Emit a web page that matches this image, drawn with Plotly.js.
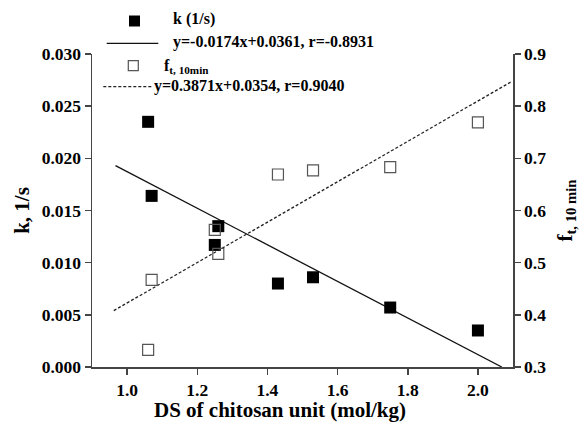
<!DOCTYPE html>
<html>
<head>
<meta charset="utf-8">
<script src="https://cdn.plot.ly/plotly-3.0.1.min.js"></script>
<style>html,body{margin:0;padding:0;background:#fff;}</style>
</head>
<body>
<div id="chart" style="width:579px;height:427px;"></div>
<script>
// ---- data ----
const dsValues = [1.06, 1.07, 1.25, 1.26, 1.43, 1.53, 1.75, 2.00];
const kValues  = [0.0235, 0.0164, 0.0117, 0.0135, 0.0080, 0.0086, 0.0057, 0.0035];
const fValues  = [0.333, 0.467, 0.563, 0.517, 0.669, 0.677, 0.683, 0.769];
const kFitX = [0.967, 2.068];
const kFitY = [0.0193, 0.0];
const fFitX = [0.962, 2.093];
const fFitY = [0.408, 0.846];
const legendLabels = ['k (1/s)', 'y=-0.0174x+0.0361, r=-0.8931', 'f<sub>t, 10min</sub>', 'y=0.3871x+0.0354, r=0.9040'];
const xTitle = 'DS of chitosan unit (mol/kg)';
const yTitle = 'k, 1/s';
const y2Title = 'f<sub>t, 10 min</sub>';

// ---- layout helpers ----
const W = 579, H = 427;
const M = {l: 92, r: 66, t: 54, b: 60};
const PW = W - M.l - M.r, PH = H - M.t - M.b;
const px = x => (x - M.l) / PW;
const py = y => (H - M.b - y) / PH;
const FONT = '"Liberation Serif", "Times New Roman", Times, serif';
const AX = '#444';

const traces = [
  {x: kFitX, y: kFitY, mode: 'lines', line: {color: '#111', width: 1.3}, hoverinfo: 'skip', showlegend: false},
  {x: fFitX, y: fFitY, yaxis: 'y2', mode: 'lines', line: {color: '#222', width: 1.3, dash: '3px,2px'}, hoverinfo: 'skip', showlegend: false},
  {x: dsValues, y: kValues, mode: 'markers', marker: {symbol: 'square', size: 12, color: '#000'}, showlegend: false},
  {x: dsValues, y: fValues, yaxis: 'y2', mode: 'markers', marker: {symbol: 'square-open', size: 11, color: '#555', line: {width: 1.2}}, showlegend: false}
];

const tickFont = {family: FONT, size: 17.5, color: '#000', weight: 'bold'};
const titleFont = {family: FONT, size: 21, color: '#000', weight: 'bold'};
const legFont = {family: FONT, size: 16, color: '#000', weight: 'bold'};

function legText(text, x, y, extra) {
  return Object.assign({text: text, xref: 'paper', yref: 'paper', x: px(x), y: py(y), xanchor: 'left', yanchor: 'middle', showarrow: false, font: legFont}, extra || {});
}

const layout = {
  width: W, height: H,
  margin: M,
  font: {family: FONT, color: '#000', weight: 'bold'},
  paper_bgcolor: '#fff', plot_bgcolor: '#fff',
  showlegend: false,
  xaxis: {range: [0.9, 2.1], tick0: 1.0, dtick: 0.2, tickformat: '.1f', showgrid: false, zeroline: false,
          showline: true, linecolor: AX, linewidth: 1.5, ticks: 'outside', ticklen: 6, tickwidth: 1.5, tickcolor: AX,
          tickfont: tickFont},
  yaxis: {range: [0, 0.03], tick0: 0, dtick: 0.005, tickformat: '.3f', showgrid: false, zeroline: false,
          showline: true, linecolor: AX, linewidth: 1.5, ticks: 'outside', ticklen: 6, tickwidth: 1.5, tickcolor: AX,
          tickfont: tickFont, title: {text: yTitle, font: titleFont, standoff: 6}},
  yaxis2: {range: [0.3, 0.9], tick0: 0.3, dtick: 0.1, tickformat: '.1f', overlaying: 'y', side: 'right', showgrid: false, zeroline: false,
          showline: true, linecolor: AX, linewidth: 1.5, ticks: 'outside', ticklen: 6, tickwidth: 1.5, tickcolor: AX,
          tickfont: tickFont, title: {text: y2Title, font: titleFont, standoff: 20}},
  shapes: [
    {type: 'rect', xref: 'paper', yref: 'paper', x0: px(129), x1: px(140), y0: py(26.5), y1: py(15.5), fillcolor: '#000', line: {width: 0}},
    {type: 'line', xref: 'paper', yref: 'paper', x0: px(106.7), x1: px(158.3), y0: py(43.3), y1: py(43.3), line: {color: '#111', width: 1.3}},
    {type: 'rect', xref: 'paper', yref: 'paper', x0: px(128.3), x1: px(138.3), y0: py(70.7), y1: py(60.7), fillcolor: '#fff', line: {color: '#555', width: 1.2}},
    {type: 'line', xref: 'paper', yref: 'paper', x0: px(103.3), x1: px(151.7), y0: py(86.7), y1: py(86.7), line: {color: '#222', width: 1.3, dash: '3px,2px'}}
  ],
  annotations: [
    legText(legendLabels[0], 171, 19),
    legText(legendLabels[1], 170.5, 42.5),
    legText(legendLabels[2], 162, 66),
    legText(legendLabels[3], 152, 86.5),
    {text: xTitle, xref: 'paper', yref: 'paper', x: px(280), y: py(410), xanchor: 'center', yanchor: 'middle', showarrow: false, font: titleFont}
  ]
};

Plotly.newPlot('chart', traces, layout, {staticPlot: true, displayModeBar: false});
</script>
</body>
</html>
